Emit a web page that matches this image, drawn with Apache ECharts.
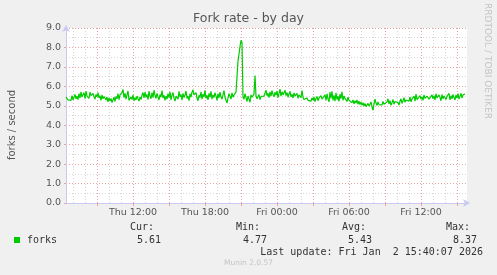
<!DOCTYPE html>
<html><head><meta charset="utf-8">
<script src="https://cdn.jsdelivr.net/npm/echarts@6/dist/echarts.min.js"></script>
<style>html,body{margin:0;padding:0;background:#f0f0f0}#c{width:497px;height:275px}</style>
</head><body><div id="c"></div>
<script>
const chartTitle = 'Fork rate - by day';
const yName = 'forks / second';
const seriesName = 'forks';
const xTickLabels = ['Thu 12:00', 'Thu 18:00', 'Fri 00:00', 'Fri 06:00', 'Fri 12:00'];
const statHeads = ['Cur:', 'Min:', 'Avg:', 'Max:'];
const statValues = ['5.61', '4.77', '5.43', '8.37'];
const lastUpdate = 'Last update: Fri Jan  2 15:40:07 2026';
const footer = 'Munin 2.0.57';
const sideText = 'RRDTOOL / TOBI OETIKER';
const dayNames = ['Thu', 'Fri'];
const startMinute = 6 * 60 + 25;          // Thu 06:25
const endMinute = 24 * 60 + 15 * 60 + 50; // Fri 15:50
const stepMinutes = 5;

const forks = [
5.45,5.36,5.30,5.22,5.40,5.28,5.52,5.30,5.44,5.58,5.36,5.50,5.32,5.62,5.40,5.72,5.45,5.55,5.68,5.36,
5.76,5.50,5.58,5.38,5.70,5.52,5.42,5.64,5.48,5.34,5.58,5.46,5.68,5.40,5.52,5.28,5.56,5.36,5.48,5.42,
5.30,5.45,5.20,5.40,5.24,5.38,5.16,5.30,5.44,5.22,5.48,5.36,5.62,5.32,5.56,5.48,5.68,5.84,5.42,5.64,
5.34,5.56,5.76,5.28,5.20,5.46,5.32,5.56,5.26,5.42,5.30,5.50,5.36,5.24,5.46,5.32,5.56,5.68,5.40,5.70,
5.44,5.58,5.32,5.76,5.50,5.36,5.68,5.42,5.80,5.54,5.38,5.64,5.46,5.30,5.58,5.44,5.78,5.40,5.54,5.28,
5.50,5.34,5.62,5.42,5.72,5.30,5.54,5.68,5.38,5.24,5.50,5.60,5.34,5.74,5.46,5.58,5.30,5.64,5.42,5.54,
5.76,5.38,5.50,5.26,5.62,5.44,5.70,5.82,5.56,5.46,5.68,5.40,5.26,5.54,5.42,5.72,5.34,5.60,5.46,5.80,
5.38,5.54,5.30,5.64,5.44,5.74,5.34,5.56,5.42,5.68,5.50,5.28,5.62,5.40,5.70,5.46,5.34,5.56,5.78,5.44,
5.52,5.14,5.40,5.62,5.50,5.34,5.66,5.44,5.56,5.64,
5.70,6.50,7.30,7.65,8.05,8.37,8.25,5.45,
5.34,5.62,5.70,5.22,5.50,5.40,5.18,5.56,5.44,5.34,5.60,6.55,5.50,5.36,5.44,5.58,5.32,5.48,5.40,5.56,5.50,5.42,
5.80,5.52,5.64,5.42,5.72,5.50,5.78,5.58,5.46,5.70,5.54,5.76,5.42,5.64,5.86,5.50,5.72,5.56,5.46,5.80,
5.52,5.68,5.44,5.62,5.74,5.46,5.60,5.40,5.66,5.50,5.44,5.64,5.38,5.56,5.48,5.42,5.78,5.44,5.32,5.42,
5.30,5.40,5.28,5.20,5.34,5.24,5.40,5.28,5.46,5.22,5.36,5.48,5.26,5.40,5.30,5.52,5.34,5.24,5.44,5.56,
5.28,5.62,5.34,5.20,5.70,5.38,5.74,5.28,5.54,5.24,5.66,5.32,5.50,5.22,5.60,5.36,5.72,5.28,5.50,5.38,
5.32,5.22,5.44,5.28,5.18,5.38,5.16,5.30,5.10,5.26,5.14,5.30,5.08,5.24,5.06,5.20,5.02,5.16,4.98,5.12,
4.96,4.88,5.12,4.98,5.06,5.20,4.94,4.77,5.10,5.34,5.14,5.02,5.20,5.06,4.98,5.14,5.04,5.22,5.08,5.16,
5.04,5.20,5.36,5.10,5.26,5.02,5.16,5.32,5.08,5.22,5.12,5.28,5.16,5.04,5.24,5.36,5.12,5.26,5.42,5.18,
5.30,5.20,5.38,5.24,5.46,5.20,5.36,5.28,5.50,5.24,5.60,5.32,5.42,5.26,5.52,5.34,5.46,5.28,5.56,5.38,
5.28,5.50,5.60,5.34,5.44,5.28,5.56,5.36,5.52,5.30,5.62,5.40,5.32,5.56,5.44,5.26,5.58,5.36,5.50,5.60,
5.32,5.50,5.40,5.64,5.30,5.52,5.36,5.58,5.42,5.30,5.56,5.40,5.62,5.34,5.48,5.64,5.40,5.56,5.46,5.61
];

// 5-minute time slots shown along the x axis
const categories = [];
const slotMinutes = [];
for (let m = startMinute; m <= endMinute; m += stepMinutes) {
  const mm = m % 1440;
  categories.push(dayNames[Math.floor(m / 1440)] + ' ' +
    String(Math.floor(mm / 60)).padStart(2, '0') + ':' + String(mm % 60).padStart(2, '0'));
  slotMinutes.push(m);
}
const isHour = i => slotMinutes[i] % 60 === 0;
const isMajor = i => isHour(i) && Math.floor(slotMinutes[i] / 60) % 3 === 0;

const RED = '#e9a3a3';
const GRAY = '#d6d6d6';
const AXIS = '#c9c9f2';
const TXT = '#555555';
const FONT = 'DejaVu Sans';

const chart = echarts.init(document.getElementById('c'), null, {renderer: 'canvas'});

const graphics = [
  {type: 'text', left: 'center', top: 12, style: {text: chartTitle, font: '12.5px "DejaVu Sans"', fill: TXT}},
  {type: 'text', x: 12, y: 125, rotation: Math.PI / 2,
    style: {text: yName, font: '10px "DejaVu Sans"', fill: TXT, align: 'center', verticalAlign: 'middle'}},
  {type: 'text', x: 487, y: 61, rotation: -Math.PI / 2,
    style: {text: sideText, font: '9px "DejaVu Sans"', fill: '#c4c4c4', align: 'center', verticalAlign: 'middle'}},
  {type: 'rect', shape: {x: 14, y: 237, width: 6, height: 6}, style: {fill: '#00cc00'}},
  {type: 'text', x: 27, y: 240, style: {text: seriesName, font: '10px "DejaVu Sans Mono"', fill: '#333', align: 'left', verticalAlign: 'middle'}},
  {type: 'text', x: 483, y: 252, style: {text: lastUpdate, font: '10px "DejaVu Sans Mono"', fill: '#333', align: 'right', verticalAlign: 'middle'}},
  {type: 'text', x: 248.5, y: 263.5, style: {text: footer, font: '7.5px "DejaVu Sans"', fill: '#c4c4c4', align: 'center', verticalAlign: 'middle'}}
];
const headRight = [154, 260, 366, 470];
const valRight = [161, 267, 372, 477];
statHeads.forEach((h, k) => graphics.push({type: 'text', x: headRight[k], y: 227,
  style: {text: h, font: '10px "DejaVu Sans Mono"', fill: '#333', align: 'right', verticalAlign: 'middle'}}));
statValues.forEach((v, k) => graphics.push({type: 'text', x: valRight[k], y: 240,
  style: {text: v, font: '10px "DejaVu Sans Mono"', fill: '#333', align: 'right', verticalAlign: 'middle'}}));

chart.setOption({
  animation: false,
  backgroundColor: '#f0f0f0',
  grid: {left: 66, right: 30, top: 28, bottom: 72, show: true, backgroundColor: '#ffffff', borderWidth: 0},
  xAxis: [{
    type: 'category', data: categories, boundaryGap: false,
    axisLine: {show: true, onZero: false, lineStyle: {color: AXIS, width: 1}, symbol: ['none', 'arrow'], symbolSize: [6, 7], symbolOffset: [0, 3]},
    axisTick: {show: false},
    axisLabel: {interval: (i, v) => xTickLabels.includes(v), color: TXT, fontSize: 9.5, fontFamily: FONT, margin: 5},
    splitLine: {show: true, interval: i => isHour(i) && !isMajor(i), lineStyle: {color: GRAY, type: [1, 2], width: 1}}
  }, {
    type: 'category', data: categories, boundaryGap: false, position: 'bottom',
    axisLine: {show: false},
    axisLabel: {show: false},
    axisTick: {show: true, interval: i => isMajor(i), length: 3, lineStyle: {color: RED}},
    splitLine: {show: true, interval: i => isMajor(i), lineStyle: {color: RED, type: [1, 2], width: 1}}
  }],
  yAxis: {
    type: 'value', min: 0, max: 9, interval: 1,
    axisLine: {show: true, lineStyle: {color: AXIS, width: 1}, symbol: ['none', 'arrow'], symbolSize: [6, 7], symbolOffset: [0, 3]},
    axisTick: {show: true, length: 2, lineStyle: {color: RED}},
    axisLabel: {formatter: v => v.toFixed(1), color: TXT, fontSize: 9.5, fontFamily: FONT, margin: 5},
    splitLine: {show: true, lineStyle: {color: RED, type: [1, 2], width: 1}},
    minorTick: {show: false, splitNumber: 2},
    minorSplitLine: {show: true, lineStyle: {color: GRAY, type: [1, 2], width: 1}}
  },
  series: [{
    name: seriesName, type: 'line', data: forks, xAxisIndex: 0,
    showSymbol: false, symbol: 'none', z: 5, sampling: null,
    lineStyle: {color: '#00cc00', width: 1.2}
  }],
  graphic: graphics
});
</script></body></html>
